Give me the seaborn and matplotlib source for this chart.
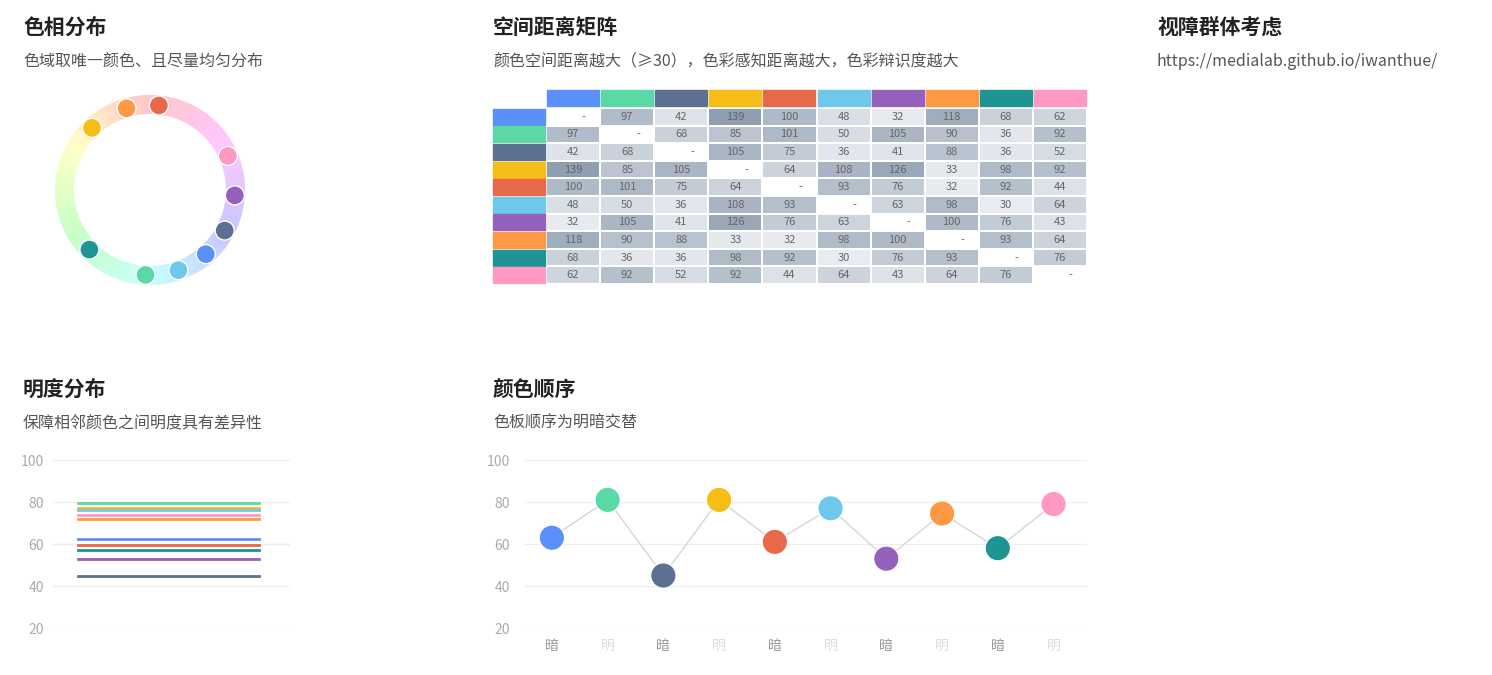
import numpy as np
import pandas as pd
import matplotlib
matplotlib.use("Agg")
import matplotlib.pyplot as plt
from matplotlib.patches import Wedge, Circle, Rectangle
from matplotlib.colors import LinearSegmentedColormap, hsv_to_rgb
import seaborn as sns

plt.rcParams["font.family"] = ["Noto Sans CJK SC", "DejaVu Sans"]

colors = ["#5B8FF9", "#5AD8A6", "#5D7092", "#F6BD16", "#E8684A",
          "#6DC8EC", "#9661BC", "#FF9845", "#1E9493", "#FF99C3"]
hue_angles = [-49, -93, -28.5, 133, 84, -70.5, -3.6, 106, -135.5, 23.6]
lightness = [62.5, 79.5, 45, 77.3, 59.5, 76, 53, 72, 57, 73.8]
order_values = [63, 81, 45, 81, 61, 77, 53, 74.5, 58, 79]
order_labels = ["暗", "明", "暗", "明", "暗", "明", "暗", "明", "暗", "明"]
distance = [
    [0, 97, 42, 139, 100, 48, 32, 118, 68, 62],
    [97, 0, 68, 85, 101, 50, 105, 90, 36, 92],
    [42, 68, 0, 105, 75, 36, 41, 88, 36, 52],
    [139, 85, 105, 0, 64, 108, 126, 33, 98, 92],
    [100, 101, 75, 64, 0, 93, 76, 32, 92, 44],
    [48, 50, 36, 108, 93, 0, 63, 98, 30, 64],
    [32, 105, 41, 126, 76, 63, 0, 100, 76, 43],
    [118, 90, 88, 33, 32, 98, 100, 0, 93, 64],
    [68, 36, 36, 98, 92, 30, 76, 93, 0, 76],
    [62, 92, 52, 92, 44, 64, 43, 64, 76, 0],
]

W, H = 1492, 675
fig = plt.figure(figsize=(W / 100, H / 100), dpi=100)
fig.patch.set_facecolor("white")

def pax(x0, y0, x1, y1):
    return fig.add_axes([x0 / W, 1 - y1 / H, (x1 - x0) / W, (y1 - y0) / H])

def title(x, y, t, s):
    fig.text(x / W, 1 - y / H, t, fontsize=15, fontweight="bold", color="#222", va="center")
    if s:
        fig.text(x / W, 1 - (y + 34) / H, s, fontsize=11.5, color="#555", va="center")

title(23, 27, "色相分布", "色域取唯一颜色、且尽量均匀分布")
title(493, 27, "空间距离矩阵", "颜色空间距离越大（≥30），色彩感知距离越大，色彩辩识度越大")
title(1157, 27, "视障群体考虑", "https://medialab.github.io/iwanthue/")
title(23, 389, "明度分布", "保障相邻颜色之间明度具有差异性")
title(493, 389, "颜色顺序", "色板顺序为明暗交替")

# Hue wheel (pixel-coordinate overlay)
ov = fig.add_axes([0, 0, 1, 1])
ov.set_xlim(0, W); ov.set_ylim(H, 0); ov.axis("off")
cx, cy, R = 150, 190, 85
for a in range(0, 360, 2):
    h = (1 - (90 - a) / 360) % 1
    c = hsv_to_rgb([h, 0.22, 1.0])
    ov.add_patch(Wedge((cx, cy), 95, -(a + 2.5), -a, width=19, color=c, lw=0))
for ang, c in zip(hue_angles, colors):
    t = np.deg2rad(ang)
    ov.add_patch(Circle((cx + R * np.cos(t), cy - R * np.sin(t)), 9.5, color=c, ec="white", lw=1, zorder=3))

# Distance matrix
df = pd.DataFrame(distance, dtype=float)
mask = np.eye(10, dtype=bool)
cmap = LinearSegmentedColormap.from_list("g", ["#eceff3", "#8a9aae"])
axm = pax(546, 108, 1087, 284)
sns.heatmap(df, mask=mask, cmap=cmap, vmin=25, vmax=145, cbar=False, linewidths=1.2,
            linecolor="white", annot=True, fmt=".0f", ax=axm,
            annot_kws={"fontsize": 8, "color": "#666"})
for i in range(10):
    axm.text(i + 0.7, i + 0.5, "-", ha="center", va="center", fontsize=8, color="#666")
    axm.add_patch(Rectangle((i + 0.02, -1.05), 0.96, 0.92, color=colors[i], clip_on=False))
    axm.add_patch(Rectangle((-0.98, i + 0.04), 0.96, 0.92, color=colors[i], clip_on=False))
axm.set_xticks([]); axm.set_yticks([]); axm.set_xlabel(""); axm.set_ylabel("")

# Lightness distribution
axl = pax(52, 460, 290, 628)
axl.axhline(60, color="#dde2e8", lw=1, zorder=0)
for v, c in zip(lightness, colors):
    axl.axhline(v, 0.11, 0.87, color=c, lw=2)
axl.set_ylim(20, 100); axl.set_xlim(0, 1)
axl.set_yticks([20, 40, 60, 80, 100])
axl.set_xticks([])
axl.grid(axis="y", color="#eeeeee", lw=0.8)
axl.set_axisbelow(True)
for s in axl.spines.values():
    s.set_visible(False)
axl.tick_params(axis="y", length=0, labelsize=10, labelcolor="#aaa", pad=6)

# Color order
axo = pax(524, 460, 1087, 628)
x = np.arange(10)
sns.lineplot(x=x, y=order_values, color="#d6d6d6", lw=1, ax=axo)
axo.scatter(x, order_values, c=colors, s=330, zorder=3, edgecolors="white", linewidths=0.8)
axo.set_ylim(20, 100); axo.set_xlim(-0.5, 9.6)
axo.set_yticks([20, 40, 60, 80, 100])
axo.set_xticks(x)
axo.set_xticklabels(order_labels)
for lab, t in zip(axo.get_xticklabels(), order_labels):
    lab.set_color("#999" if t == "暗" else "#ddd")
axo.grid(axis="y", color="#eeeeee", lw=0.8)
axo.set_axisbelow(True)
for s in axo.spines.values():
    s.set_visible(False)
axo.tick_params(length=0, labelsize=10, pad=8)
axo.tick_params(axis="y", labelcolor="#aaa", pad=10)

fig.savefig("out.png", dpi=100)
